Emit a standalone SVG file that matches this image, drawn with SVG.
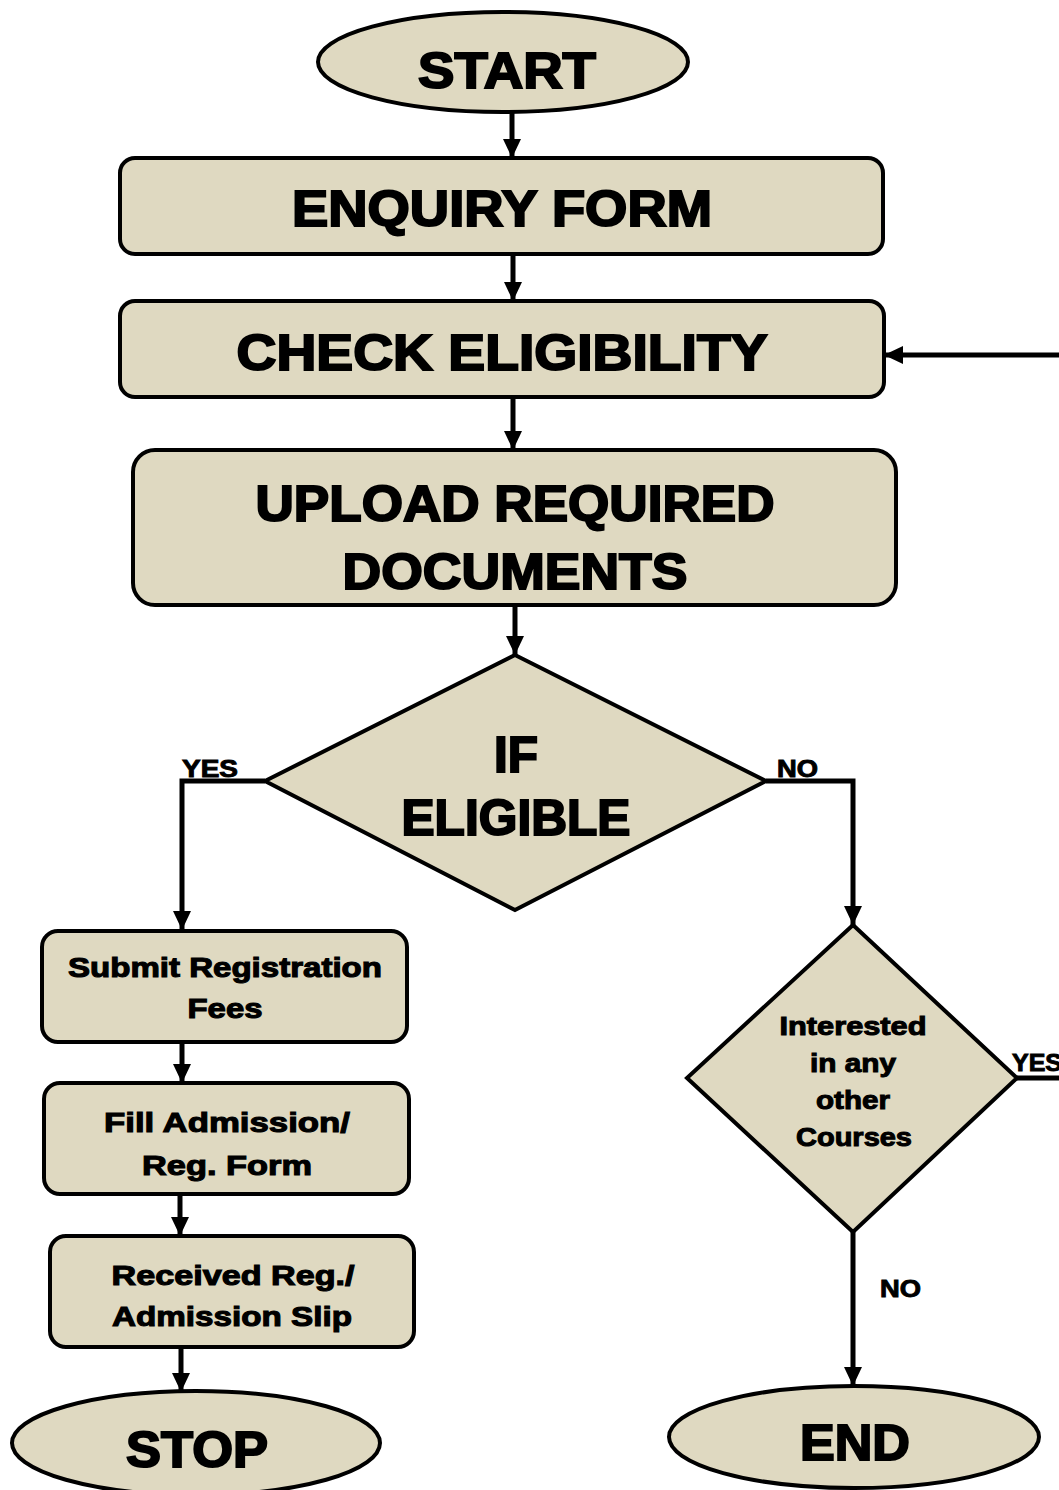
<svg xmlns="http://www.w3.org/2000/svg" width="1059" height="1490" viewBox="0 0 1059 1490">
<defs>
<marker id="ah" markerUnits="userSpaceOnUse" markerWidth="22" markerHeight="22" refX="19" refY="11" orient="auto">
<path d="M0,2 L19,11 L0,20 Z" fill="#000"/>
</marker>
<style>
.n{fill:#dfd9c1;stroke:#000;stroke-width:4}
.c{fill:none;stroke:#000;stroke-width:5;marker-end:url(#ah)}
.l{fill:none;stroke:#000;stroke-width:5}
.t{font-family:"Liberation Sans","Arial",sans-serif;font-weight:bold;fill:#000;stroke:#000;text-anchor:middle}
.big{font-size:50px;stroke-width:2}
.mid{font-size:28px;stroke-width:1.1}
.sm{font-size:25px;stroke-width:1}
.lab{font-size:23px;stroke-width:0.9;text-anchor:start}
</style>
</defs>
<rect width="1059" height="1490" fill="#fff"/>

<g id="connectors">
<path class="c" d="M512,112 V158"/>
<path class="c" d="M513,254 V301"/>
<path class="c" d="M513,397 V450"/>
<path class="c" d="M515,605 V655"/>
<path class="c" d="M265,781 H182 V930"/>
<path class="c" d="M766,781 H853 V925"/>
<path class="c" d="M182,1042 V1083"/>
<path class="c" d="M180,1194 V1236"/>
<path class="c" d="M181,1347 V1392"/>
<path class="c" d="M853,1232 V1386"/>
<path class="l" d="M1017,1078 H1059"/>
<path class="c" d="M1059,355 H884"/>
<text class="t lab" x="182" y="777" textLength="56" lengthAdjust="spacingAndGlyphs">YES</text>
<text class="t lab" x="777" y="777" textLength="41" lengthAdjust="spacingAndGlyphs">NO</text>
<text class="t lab" x="1012" y="1071" textLength="50" lengthAdjust="spacingAndGlyphs">YES</text>
<text class="t lab" x="880" y="1297" textLength="41" lengthAdjust="spacingAndGlyphs">NO</text>
</g>

<g id="start">
<ellipse class="n" cx="503" cy="62" rx="185" ry="50"/>
<text class="t big" x="507" y="88" textLength="178" lengthAdjust="spacingAndGlyphs">START</text>
</g>

<g id="enquiry">
<rect class="n" x="120" y="158" width="763" height="96" rx="15"/>
<text class="t big" x="502" y="226" textLength="420" lengthAdjust="spacingAndGlyphs">ENQUIRY FORM</text>
</g>

<g id="check">
<rect class="n" x="120" y="301" width="764" height="96" rx="15"/>
<text class="t big" x="502" y="370" textLength="531" lengthAdjust="spacingAndGlyphs">CHECK ELIGIBILITY</text>
</g>

<g id="upload">
<rect class="n" x="133" y="450" width="763" height="155" rx="22"/>
<text class="t big" x="515" y="521" textLength="519" lengthAdjust="spacingAndGlyphs">UPLOAD REQUIRED</text>
<text class="t big" x="515" y="589" textLength="345" lengthAdjust="spacingAndGlyphs">DOCUMENTS</text>
</g>

<g id="eligible">
<polygon class="n" points="515,655 766,781 515,910 265,781"/>
<text class="t big" x="516" y="772" textLength="44" lengthAdjust="spacingAndGlyphs">IF</text>
<text class="t big" x="516" y="835" textLength="229" lengthAdjust="spacingAndGlyphs">ELIGIBLE</text>
</g>

<g id="interested">
<polygon class="n" points="853,925 1017,1078 853,1232 687,1078"/>
<text class="t sm" x="853" y="1035" textLength="147" lengthAdjust="spacingAndGlyphs">Interested</text>
<text class="t sm" x="853" y="1072" textLength="86" lengthAdjust="spacingAndGlyphs">in any</text>
<text class="t sm" x="853" y="1109" textLength="74" lengthAdjust="spacingAndGlyphs">other</text>
<text class="t sm" x="854" y="1146" textLength="116" lengthAdjust="spacingAndGlyphs">Courses</text>
</g>

<g id="submit">
<rect class="n" x="42" y="931" width="365" height="111" rx="16"/>
<text class="t mid" x="225" y="977" textLength="314" lengthAdjust="spacingAndGlyphs">Submit Registration</text>
<text class="t mid" x="225" y="1018" textLength="75" lengthAdjust="spacingAndGlyphs">Fees</text>
</g>

<g id="fill">
<rect class="n" x="44" y="1083" width="365" height="111" rx="16"/>
<text class="t mid" x="227" y="1132" textLength="246" lengthAdjust="spacingAndGlyphs">Fill Admission/</text>
<text class="t mid" x="227" y="1175" textLength="170" lengthAdjust="spacingAndGlyphs">Reg. Form</text>
</g>

<g id="received">
<rect class="n" x="50" y="1236" width="364" height="111" rx="16"/>
<text class="t mid" x="233" y="1285" textLength="243" lengthAdjust="spacingAndGlyphs">Received Reg./</text>
<text class="t mid" x="232" y="1326" textLength="240" lengthAdjust="spacingAndGlyphs">Admission Slip</text>
</g>

<g id="stop">
<ellipse class="n" cx="196" cy="1443" rx="184" ry="52"/>
<text class="t big" x="197" y="1467" textLength="142" lengthAdjust="spacingAndGlyphs">STOP</text>
</g>

<g id="end">
<ellipse class="n" cx="854" cy="1437" rx="185" ry="51"/>
<text class="t big" x="855" y="1460" textLength="110" lengthAdjust="spacingAndGlyphs">END</text>
</g>
</svg>
